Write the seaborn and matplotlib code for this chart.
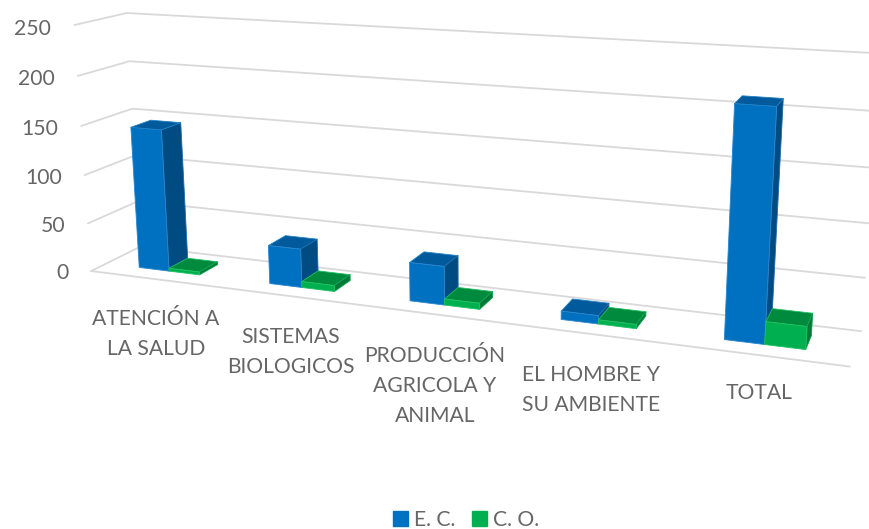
import numpy as np
import seaborn as sns
import matplotlib
matplotlib.use("Agg")
from matplotlib import pyplot as plt
from matplotlib.patches import Patch
from mpl_toolkits.mplot3d import proj3d

sns.set_theme(style="white")
plt.rcParams['font.family'] = ['Lato', 'DejaVu Sans']

# values
categories = ['ATENCIÓN A\nLA SALUD', 'SISTEMAS\nBIOLOGICOS', 'PRODUCCIÓN\nAGRICOLA Y\nANIMAL',
              'EL HOMBRE Y\nSU AMBIENTE', 'TOTAL']
ec_values = [146, 39, 38, 8, 211]
co_values = [3, 6, 6, 4, 21]
yticks = [0, 50, 100, 150, 200, 250]
series = ['E. C.', 'C. O.']

text_color = '#666666'
grid_color = '#d9d9d9'
# face order of bar3d: bottom, top, front, back, left, right
hidden = (0, 0, 0, 0)
ec_faces = [hidden, '#005a9c', '#0070c0', hidden, hidden, '#004c82']
co_faces = [hidden, '#008a3e', '#00b050', hidden, hidden, '#007a36']
ec_edges = [hidden, '#1f80c8', '#2a86cc', hidden, hidden, '#1f6aa8']
co_edges = [hidden, '#20c060', '#20c060', hidden, hidden, '#10a050']

fig = plt.figure(figsize=(8.69, 5.29), dpi=100)
side = 869 / 529
ax = fig.add_axes([17.42 / 869, (1 - side) / 2 + 81.48 / 529, 1, side],
                  projection='3d', computed_zorder=False)
ax.set_axis_off()

# grid on the two walls and the floor
for v in yticks:
    ax.plot([0, 0, 5], [0, 1, 1], [v, v, v], color=grid_color, lw=1.3, zorder=1)
ax.plot([0, 5], [0, 0], [0, 0], color=grid_color, lw=1.3, zorder=1)

# the bars, left to right
bar_w = 0.235
bar_d = 0.4
bar_x = 0.262
bar_y = 0.3
for i in range(len(categories)):
    ax.bar3d(i + bar_x, bar_y, 0, bar_w, bar_d, ec_values[i], color=ec_faces, edgecolor=ec_edges,
             linewidth=0.6, shade=False, zorder=2 + 2 * i)
    ax.bar3d(i + bar_x + bar_w, bar_y, 0, bar_w, bar_d, co_values[i], color=co_faces, edgecolor=co_edges,
             linewidth=0.6, shade=False, zorder=3 + 2 * i)

# camera fitted to the picture
ax.view_init(elev=14.058, azim=-69.292, roll=0.164)
ax.set_proj_type('persp', focal_length=0.3096)
ax.set_box_aspect((2.9877, 0.36, 1), zoom=0.9458)
ax.set_xlim(0.0501, 5.0501, view_margin=0)
ax.set_ylim(0.1429, 1.1429, view_margin=0)
ax.set_zlim(-1.9966, 248.0034, view_margin=0)

# tick labels follow the front left edge of the box
M = ax.get_proj()
for v in yticks:
    tx, ty, _ = proj3d.proj_transform(-0.185, 0, v - 5, M)
    ax.text2D(tx, ty, str(v), transform=ax.transData, ha='right', va='center',
              fontsize=15.2, color=text_color)

label_x = [156, 291, 435, 591, 759]
label_y = [334, 352, 386, 390, 393]
for name, lx, ly in zip(categories, label_x, label_y):
    fig.text(lx / 869, 1 - ly / 529, name, ha='center', va='center', fontsize=15.2,
             color=text_color, linespacing=1.6)

handles = [Patch(color='#0070c0'), Patch(color='#00b050')]
fig.legend(handles, series, ncols=2, loc='center', bbox_to_anchor=(466 / 869, 1 - 520 / 529),
           frameon=False, fontsize=15.2, labelcolor=text_color, handlelength=0.72, handleheight=0.72,
           handletextpad=0.3, columnspacing=0.75)

fig.savefig('out.png', dpi=100)
